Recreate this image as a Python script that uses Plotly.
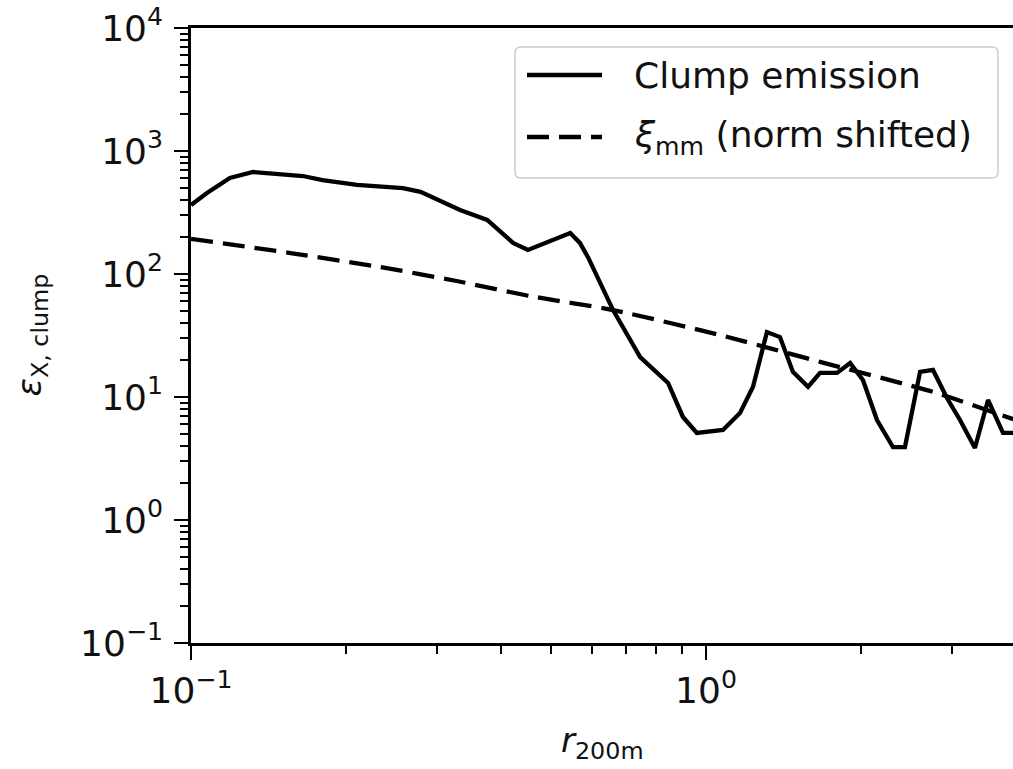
import plotly.graph_objects as go

# ---- data ----
clump_r = [0.100, 0.1074, 0.119, 0.132, 0.165, 0.180, 0.210, 0.258, 0.279, 0.333,
           0.376, 0.422, 0.451, 0.545, 0.569, 0.590, 0.660, 0.745, 0.844, 0.902,
           0.960, 1.079, 1.164, 1.234, 1.313, 1.392, 1.475, 1.578, 1.665, 1.796,
           1.905, 2.018, 2.148, 2.307, 2.434, 2.604, 2.759, 2.937, 3.113, 3.328,
           3.529, 3.773, 3.95]
clump_eps = [364, 456, 603, 675, 626, 580, 530, 500, 465, 331,
             275, 179, 157, 215, 179, 137, 50.9, 21.1, 13.0, 6.88,
             5.10, 5.39, 7.41, 12.1, 33.7, 30.7, 16.0, 12.1, 15.7, 15.7,
             18.9, 13.7, 6.50, 3.92, 3.92, 16.0, 16.6, 9.8, 6.5, 3.85,
             9.46, 5.1, 5.1]

xi_r = [0.100, 0.156, 0.233, 0.328, 0.455, 0.660, 1.064, 1.665, 2.759, 3.95]
xi_eps = [193, 148, 114, 87.7, 66.2, 50.9, 31.9, 19.3, 11.0, 6.6]

x_tickvals = [0.1, 1]
x_ticktext = ["10<sup>\u22121</sup>", "10<sup>0</sup>"]
y_tickvals = [0.1, 1, 10, 100, 1000, 10000]
y_ticktext = ["10<sup>\u22121</sup>", "10<sup>0</sup>", "10<sup>1</sup>",
              "10<sup>2</sup>", "10<sup>3</sup>", "10<sup>4</sup>"]

series_names = ["Clump emission", "<i>\u03be</i><sub>mm</sub> (norm shifted)"]
x_title = "<i>r</i><sub>200m</sub>"
y_title = "<i>\u03b5</i><sub>X, clump</sub>"

FONT = "DejaVu Sans"
W, H = 1013, 769
L, R, T, B = 191, 0, 28, 126
PW, PH = W - L - R, H - T - B

minor_x = [m * 10 ** e for e in (-1, 0) for m in range(2, 10)]
minor_y = [m * 10 ** e for e in (-1, 0, 1, 2, 3) for m in range(2, 10)]

fig = go.Figure()
fig.add_trace(go.Scatter(x=clump_r, y=clump_eps, mode="lines",
                         line=dict(color="black", width=4.3), name=series_names[0],
                         showlegend=False))
fig.add_trace(go.Scatter(x=xi_r, y=xi_eps, mode="lines", line_shape="spline",
                         line=dict(color="black", width=4.3, dash="22px,10px",
                                   smoothing=0.6),
                         name=series_names[1], showlegend=False))

axis_common = dict(type="log", showgrid=False, zeroline=False, showline=True,
                   linecolor="black", linewidth=2.5, ticks="outside", ticklen=14,
                   tickwidth=2.2, tickcolor="black",
                   tickfont=dict(family=FONT, size=36, color="#111"))

fig.update_xaxes(**axis_common, range=[-1, (W - L) / 515 - 1], mirror=True,
                 tickmode="array", tickvals=x_tickvals, ticktext=x_ticktext,
                 minor=dict(tickmode="array", tickvals=minor_x, ticks="outside",
                            ticklen=8, tickwidth=1.8, tickcolor="black"))
fig.update_yaxes(**axis_common, range=[-1, 4], ticklabelstandoff=4,
                 tickmode="array", tickvals=y_tickvals, ticktext=y_ticktext,
                 minor=dict(tickmode="array", tickvals=minor_y, ticks="outside",
                            ticklen=8, tickwidth=1.8, tickcolor="black"))

def px2paper_x(px):
    return (px - L) / PW

def py2paper_y(py):
    return (T + PH - py) / PH

# manual legend box with rounded corners
x0, x1 = px2paper_x(515), px2paper_x(998)
y0, y1 = py2paper_y(178), py2paper_y(47)
rx, ry = 6 / PW, 6 / PH
path = (f"M {x0+rx},{y0} L {x1-rx},{y0} Q {x1},{y0} {x1},{y0+ry} "
        f"L {x1},{y1-ry} Q {x1},{y1} {x1-rx},{y1} L {x0+rx},{y1} "
        f"Q {x0},{y1} {x0},{y1-ry} L {x0},{y0+ry} Q {x0},{y0} {x0+rx},{y0} Z")
shapes = [dict(type="path", xref="paper", yref="paper", path=path,
               line=dict(color="#cccccc", width=1.5), fillcolor="rgba(255,255,255,0.8)")]
for py, dash in ((75, "solid"), (137, "22px,10px")):
    shapes.append(dict(type="line", xref="paper", yref="paper",
                       x0=px2paper_x(527), x1=px2paper_x(602),
                       y0=py2paper_y(py), y1=py2paper_y(py),
                       line=dict(color="black", width=4.3, dash=dash)))

annotations = []
for py, txt in ((75, series_names[0]), (137, series_names[1])):
    annotations.append(dict(xref="paper", yref="paper", x=px2paper_x(632),
                            y=py2paper_y(py), xanchor="left", yanchor="middle",
                            text=txt, showarrow=False,
                            font=dict(family=FONT, size=36, color="#111")))
annotations.append(dict(xref="paper", yref="paper", x=0.5, y=py2paper_y(742),
                        xanchor="center", yanchor="middle", text=x_title,
                        showarrow=False, font=dict(family=FONT, size=34, color="#111")))
annotations.append(dict(xref="paper", yref="paper", x=px2paper_x(31), y=0.5,
                        xanchor="center", yanchor="middle", text=y_title,
                        textangle=-90, showarrow=False,
                        font=dict(family=FONT, size=34, color="#111")))

fig.update_layout(width=W, height=H, margin=dict(l=L, r=R, t=T, b=B),
                  plot_bgcolor="white", paper_bgcolor="white",
                  shapes=shapes, annotations=annotations, showlegend=False)

fig.write_html("out.html")
